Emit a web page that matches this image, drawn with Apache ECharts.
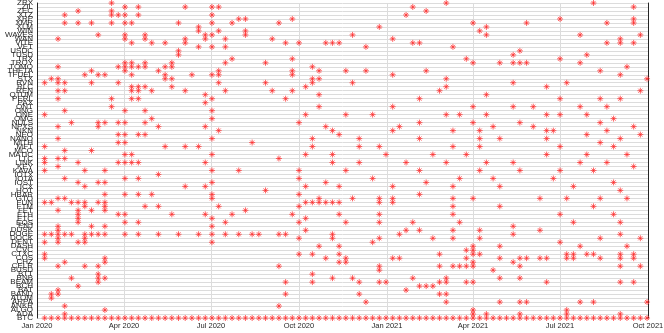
<!DOCTYPE html>
<html>
<head>
<meta charset="utf-8">
<script src="https://cdn.jsdelivr.net/npm/echarts@6/dist/echarts.min.js"></script>
<style>
  html, body { margin: 0; padding: 0; background: #fff; }
  #chart { width: 664px; height: 333px; }
</style>
</head>
<body>
<div id="chart"></div>
<script>
// coins, bottom row first
const categories = ['BTC','ADA','ALGO','ANKR','ARPA','ATOM','BAND','BAT','BCH','BEAM',
  'BNB','BTT','BUSD','CELR','CHZ','COS','CTXC','CVC','DASH','DENT',
  'DOCK','DOGE','DUSK','ENJ','EOS','ETC','ETH','FET','FTM','FUN',
  'GTO','HBAR','HOT','ICX','IOST','IOTA','IOTX','KAVA','KEY','LINK',
  'LTC','MATIC','MCO','MFT','MITH','NANO','NEO','NKN','NPXS','NULS',
  'OMG','ONE','ONG','ONT','PAX','PERL','QTUM','REN','RLC','RVN',
  'STX','TFUEL','THETA','TOMO','TROY','TRX','TUSD','USDC','VET','VITE',
  'WAN','WAVES','WIN','XLM','XMR','XRP','XTZ','ZEC','ZIL','ZRX'];

// week numbers (0 = week of 9 Jan 2020) in which each coin is marked, same order as categories
const weekHits = [
  [0,1,2,3,4,5,6,7,8,9,10,11,12,13,14,15,16,17,18,19,20,21,22,23,24,25,26,27,28,29,30,31,32,33,34,35,36,37,38,39,40,41,42,43,44,45,46,47,48,49,50,51,52,53,54,55,56,57,58,59,60,61,62,63,64,65,66,67,68,69,70,71,72,73,74,75,76,77,78,79,80,81,82,83,84,85,86,87,88,89,90],
  [3,64,66,71,78,86],
  [9,64,78],
  [3,35],
  [48,60,68,71,72,80,82,90],
  [1],
  [1,2,36,47,59,60],
  [2,54],
  [5,56,57,58],
  [8,36,40,47,50,51,59,60,63,64,75,86,88],
  [4,8,9,43,46,55,60,68,71],
  [8,40],
  [50,67],
  [2,6,8,35,50,59,61,62,63,64,71,86,89],
  [3,9,44,45,64,70],
  [0,9,42,45,52,53,63,68,71,72,74,75,78,79,83,86,88],
  [0,38,40,44,59,64,65,78,79,81,82,86,88],
  [63,64],
  [41,44,64,68,80,87],
  [0,2,5,6,25,49,77],
  [2,6,38,43,50,58,61,65,83,89],
  [0,1,2,3,4,6,7,8,9,12,14,17,20,23,25,27,29,31,32,35,36,43,53,70,86],
  [2,39,54,56,61,65,74],
  [2,7,9,25,70],
  [5,12,14,27,38,45,50,55,62,79,86],
  [5,25,39],
  [5,11,12,19,24,28,37,44,50,61,77,85],
  [2,5,7,9,30],
  [6,9,15,17,26,38,61,68,82],
  [0,1,4,5,6,8,9,39,40,41,42,43,44,50,52],
  [2,3,25,41,46,50,52,61,64,74,78,83,87],
  [9,12,14,16,25,38,56],
  [33,86],
  [6,21,24,39,44,52,61,68,79],
  [5,8,9,25,42,57,85],
  [3,12,14,38,49,62,67,76],
  [17],
  [0,6,9,25,29,38,45,56,65,71,77,82],
  [2,88],
  [0,5,11,12,13,14,24,43,47,54,60,66,70,80,84],
  [0,2,3,35],
  [12,13,25,39,43,51,58,63,75,81,87],
  [3,7],
  [0,18,21,23,40,47,50,61,65,77,85],
  [11,12,31,83],
  [2,25,40,47,56,65,68,75,86],
  [11,12,14,15,44,81,89],
  [26,43,52,61,65,75,76,84],
  [2,8,17,24,42,53,67,73,88],
  [4,8,9,11,12,15,38,56,64,71,83],
  [16,25,85],
  [0,39,45,49,60,62,66,75,77,81],
  [3,12,15,25],
  [10,41,52,64,70,73,80,84],
  [24],
  [2,10,13,14,25,36,56,77,83,86],
  [24,41,66],
  [2,3,13,14,16,21,27,34,37,59,89],
  [13,14,15,19,39,60,75],
  [0,2,3,7,11,26,33,40,46,70,78],
  [1,2,18,19,40,41,60,90],
  [6,8,9,13,18,22,25,26,37,52,86],
  [7,12,17,26,37,41,45,48,57,83],
  [2,11,12,13,14,15,18,19,40,87],
  [12,13,15,19,27,33,64,68,70,71,72,80],
  [28,37,63,77],
  [20,70,81],
  [20,71],
  [23,25,27,48,61],
  [13,16,18,21,36,38,42,43,44,55,56,84,86,88],
  [2,12,15,21,24,27,34,52,86],
  [8,12,15,24,25,30,46,66,80,89],
  [23,26,30,65],
  [23,50,66],
  [3,5,7,10,12,13,20,25,28,35,64,72,84,88],
  [29,30,37,77,88],
  [3,10,11,12,14,25,54],
  [5,10,57],
  [12,14,21,25,26,55,88],
  [10,60,82]
];

const firstWeek = [2020, 0, 9];
const monthNames = ['Jan','Feb','Mar','Apr','May','Jun','Jul','Aug','Sep','Oct','Nov','Dec'];
const xStart = new Date(2020, 0, 1).getTime();
const xEnd = new Date(2021, 9, 1).getTime();
const DAY = 86400000;

const points = [];
weekHits.forEach((weeks, i) => {
  weeks.forEach(w => {
    points.push([new Date(firstWeek[0], firstWeek[1], firstWeek[2] + 7 * w).getTime(), categories[i]]);
  });
});

const ink = '#262626';
const asterisk = 'path://M0,5L10,5M5,0L5,10M1.6,1.6L8.4,8.4M8.4,1.6L1.6,8.4';

const chart = echarts.init(document.getElementById('chart'), null, { renderer: 'canvas' });
chart.setOption({
  animation: false,
  textStyle: { fontFamily: 'Liberation Sans, Arial, sans-serif' },
  grid: { left: 37, right: 16, top: 3, bottom: 15, containLabel: false, outerBoundsMode: 'none' },
  xAxis: [{
    type: 'time',
    min: xStart,
    max: xEnd,
    minInterval: 90 * DAY,
    maxInterval: 92 * DAY,
    axisLine: { lineStyle: { color: ink, width: 1 } },
    axisTick: { inside: true, length: 4, lineStyle: { color: ink } },
    axisLabel: {
      fontSize: 7.5,
      color: ink,
      margin: 4,
      showMinLabel: true,
      showMaxLabel: true,
      formatter: v => {
        const d = new Date(v);
        return monthNames[d.getMonth()] + ' ' + d.getFullYear();
      }
    },
    splitLine: { show: true, lineStyle: { color: '#dcdcdc', width: 1 } },
    name: 'Time',
    nameLocation: 'middle',
    nameGap: 4,
    nameTextStyle: { fontSize: 10.5, color: ink, verticalAlign: 'top' }
  }, {
    type: 'time',
    position: 'top',
    min: xStart,
    max: xEnd,
    minInterval: 90 * DAY,
    maxInterval: 92 * DAY,
    axisLine: { lineStyle: { color: ink, width: 1 } },
    axisTick: { inside: true, length: 4, lineStyle: { color: ink } },
    axisLabel: { show: false },
    splitLine: { show: false }
  }],
  yAxis: [{
    type: 'category',
    data: categories,
    boundaryGap: false,
    axisLine: { lineStyle: { color: ink, width: 1 } },
    axisTick: { inside: true, length: 5, interval: 0, lineStyle: { color: ink } },
    axisLabel: { interval: 0, fontSize: 8, color: ink, margin: 4 },
    splitLine: { show: true, interval: 0, lineStyle: { color: '#dcdcdc', width: 1 } },
    name: 'cryptocurrency name',
    nameLocation: 'middle',
    nameGap: 25,
    nameTextStyle: { fontSize: 10.5, color: ink }
  }, {
    type: 'category',
    data: categories,
    position: 'right',
    boundaryGap: false,
    axisLine: { lineStyle: { color: ink, width: 1 } },
    axisTick: { inside: true, length: 5, interval: 0, lineStyle: { color: ink } },
    axisLabel: { show: false },
    splitLine: { show: false }
  }],
  series: [{
    type: 'scatter',
    data: points,
    symbol: asterisk,
    symbolSize: 6,
    itemStyle: { color: 'rgba(0,0,0,0)', borderColor: '#ff2a2a', borderWidth: 0.9 }
  }]
});
</script>
</body>
</html>
